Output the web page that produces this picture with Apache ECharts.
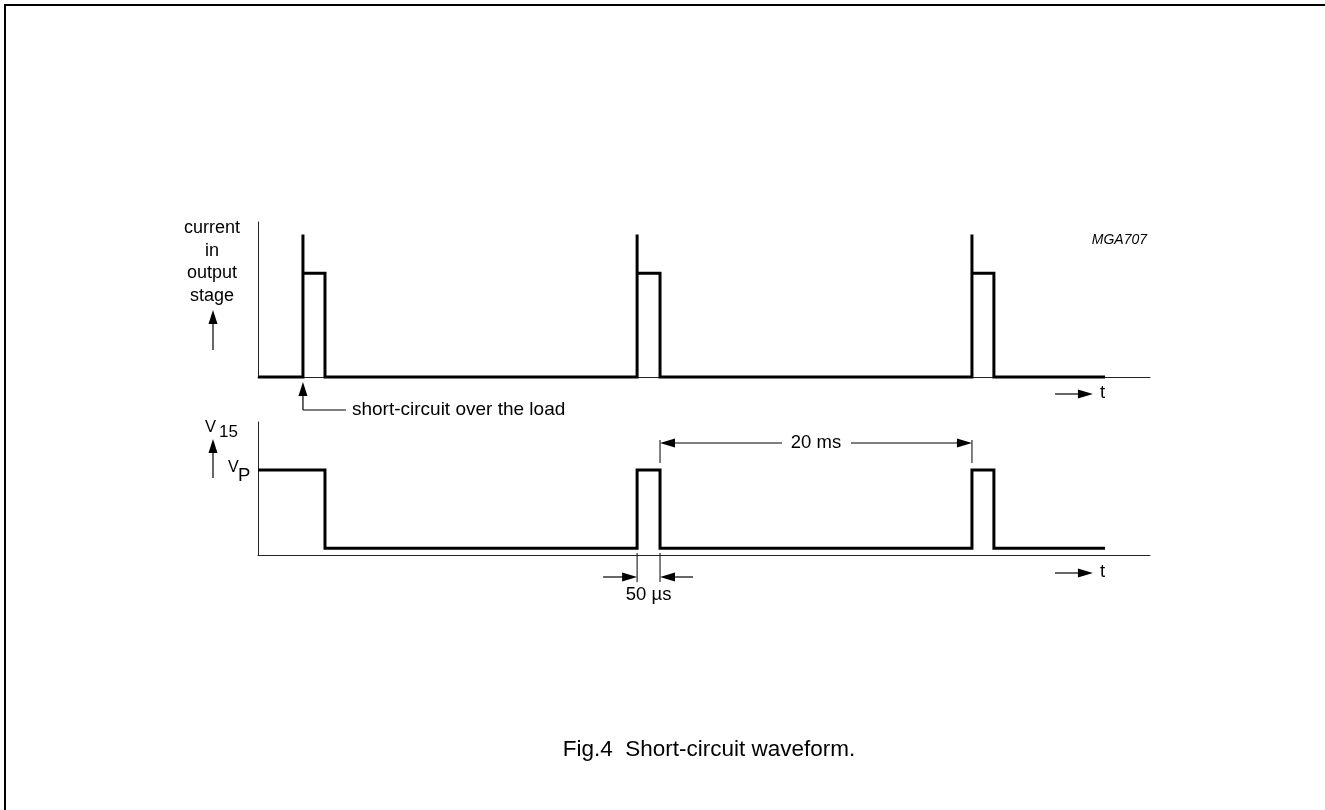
<!DOCTYPE html>
<html><head><meta charset="utf-8">
<script src="https://cdn.jsdelivr.net/npm/echarts@6/dist/echarts.min.js"></script>
<style>html,body{margin:0;padding:0;background:#fff}#c{width:1325px;height:810px}</style>
</head><body><div id="c"></div>
<script>
// ---- data (schematic time units 0..100, schematic levels 0..100) ----
const timeRange = [0, 100];
const levelRange = [0, 100];
const currentTime  = [0, 5.04, 5.04, 5.04, 7.51, 7.51, 42.5, 42.5, 42.5, 45.07, 45.07, 80.04, 80.04, 80.04, 82.5, 82.5, 94.96];
const currentLevel = [0, 0,    92,   67,   67,   0,    0,    92,   67,   67,    0,     0,     92,    67,    67,   0,    0];
const voltageTime  = [0,  7.51, 7.51, 42.5, 42.5, 45.07, 45.07, 80.04, 80.04, 82.5, 82.5, 94.96];
const voltageLevel = [64, 64,   5,    5,    64,   64,    5,     5,     64,    64,   5,    5];
const pulseStarts = [5.04, 42.5, 80.04];
const pulseEnds   = [7.51, 45.07, 82.5];
const topLabelLines = ['current', 'in', 'output', 'stage'];
const shortCircuitLabel = 'short-circuit over the load';
const periodLabel = '20 ms';
const widthLabel = '50 \u00b5s';
const timeLabel = 't';
const codeLabel = 'MGA707';
const captionText = 'Fig.4  Short-circuit waveform.';

const FONT = 'Liberation Sans, Arial, Helvetica, sans-serif';
const chart = echarts.init(document.getElementById('c'), null, {renderer: 'canvas'});

function pairs(xs, ys) { return xs.map((x, i) => [x, ys[i]]); }

const axisLineStyle = {color: '#222', width: 1};
function xAx(gi) {
  return {type: 'value', gridIndex: gi, min: timeRange[0], max: timeRange[1],
    axisLine: {show: true, onZero: false, lineStyle: axisLineStyle},
    axisTick: {show: false}, axisLabel: {show: false}, splitLine: {show: false}};
}
function yAx(gi) {
  return {type: 'value', gridIndex: gi, min: levelRange[0], max: levelRange[1],
    axisLine: {show: true, lineStyle: axisLineStyle},
    axisTick: {show: false}, axisLabel: {show: false}, splitLine: {show: false}};
}
const waveStyle = {color: '#000', width: 3, join: 'miter', cap: 'butt'};

chart.setOption({
  animation: false,
  backgroundColor: '#fff',
  grid: [
    {left: 258, top: 222, width: 892, height: 155},
    {left: 258, top: 422, width: 892, height: 133}
  ],
  xAxis: [xAx(0), xAx(1)],
  yAxis: [yAx(0), yAx(1)],
  series: [
    {type: 'line', xAxisIndex: 0, yAxisIndex: 0, data: pairs(currentTime, currentLevel),
     showSymbol: false, symbol: 'none', lineStyle: waveStyle, clip: false, silent: true},
    {type: 'line', xAxisIndex: 1, yAxisIndex: 1, data: pairs(voltageTime, voltageLevel),
     showSymbol: false, symbol: 'none', lineStyle: waveStyle, clip: false, silent: true}
  ]
});

// ---- annotations placed through the axes' scales ----
function px(gi, x, y) { return chart.convertToPixel({xAxisIndex: gi, yAxisIndex: gi}, [x, y]); }
const G = [];
function line(x1, y1, x2, y2, w) {
  G.push({type: 'line', shape: {x1, y1, x2, y2}, style: {stroke: '#000', lineWidth: w || 1.2}, silent: true});
}
function head(xt, yt, dx, dy, len, hw) {
  const bx = xt - dx * len, by = yt - dy * len;
  const nx = -dy, ny = dx;
  G.push({type: 'polygon', shape: {points: [[xt, yt], [bx + nx * hw, by + ny * hw], [bx - nx * hw, by - ny * hw]]},
    style: {fill: '#000'}, silent: true});
}
function arrow(x1, y1, x2, y2, len, hw) {
  const L = Math.hypot(x2 - x1, y2 - y1), dx = (x2 - x1) / L, dy = (y2 - y1) / L;
  line(x1, y1, x2 - dx * len * 0.8, y2 - dy * len * 0.8);
  head(x2, y2, dx, dy, len, hw);
}
function text(t, x, y, size, align, opts) {
  G.push(Object.assign({type: 'text', silent: true, style: Object.assign({
    text: t, x, y, fontSize: size, fontFamily: FONT, fill: '#000',
    align: align || 'left', verticalAlign: 'middle'}, (opts || {}))}));
}

// frame
G.push({type: 'rect', shape: {x: 5, y: 5, width: 1400, height: 900}, style: {fill: 'none', stroke: '#000', lineWidth: 2}, silent: true});

// top panel
const b0 = px(0, 0, 0);
const t0 = px(0, 0, levelRange[1]);
topLabelLines.forEach((s, i) => text(s, b0[0] - 46, t0[1] + 6 + i * 22.7, 18, 'center'));
arrow(b0[0] - 45, b0[1] - 27, b0[0] - 45, b0[1] - 67, 14, 4.5);
text(codeLabel, px(0, timeRange[1], 0)[0] - 3, t0[1] + 18, 14, 'right', {fontStyle: 'italic'});

// short-circuit pointer at first pulse start
const p1 = px(0, pulseStarts[0], 0);
arrow(p1[0], p1[1] + 33, p1[0], p1[1] + 5, 14, 4.5);
line(p1[0], p1[1] + 33, p1[0] + 43, p1[1] + 33);
text(shortCircuitLabel, p1[0] + 49, p1[1] + 33, 19, 'left');

// time arrows
function tArrow(gi, dy) {
  const a = px(gi, 89.35, 0), b = px(gi, 93.6, 0);
  arrow(a[0], a[1] + dy, b[0], b[1] + dy, 15, 4.5);
  text(timeLabel, b[0] + 7, b[1] + dy - 1, 18.5, 'left');
}
tArrow(0, 17);

// bottom panel
const b1 = px(1, 0, 0);
const vp = px(1, 0, voltageLevel[0]);
text('V', b1[0] - 53, px(1, 0, levelRange[1])[1] + 5, 16.5, 'left');
text('15', b1[0] - 39, px(1, 0, levelRange[1])[1] + 10, 17, 'left');
arrow(b1[0] - 45, b1[1] - 77, b1[0] - 45, b1[1] - 116, 14, 4.5);
text('V', vp[0] - 30, vp[1] - 2, 16, 'left');
text('P', vp[0] - 20, vp[1] + 6, 18.5, 'left');
tArrow(1, 18);

// 20 ms dimension: pulse 2 end to pulse 3 start
const dA = px(1, pulseEnds[1], 84.2), dB = px(1, pulseStarts[2], 84.2);
const tkTop = px(1, 0, 86.5)[1], tkBot = px(1, 0, 69.2)[1];
line(dA[0], tkTop, dA[0], tkBot, 1);
line(dB[0], tkTop, dB[0], tkBot, 1);
const mid = (dA[0] + dB[0]) / 2;
arrow(mid - 34, dA[1], dA[0], dA[1], 15, 4.5);
arrow(mid + 35, dA[1], dB[0], dB[1], 15, 4.5);
text(periodLabel, mid, dA[1], 18.5, 'center');

// 50 us dimension at pulse 2
const wA = px(1, pulseStarts[1], 0), wB = px(1, pulseEnds[1], 0);
line(wA[0], wA[1] - 2, wA[0], wA[1] + 27, 1);
line(wB[0], wB[1] - 2, wB[0], wB[1] + 27, 1);
arrow(wA[0] - 34, wA[1] + 22, wA[0], wA[1] + 22, 15, 4.5);
arrow(wB[0] + 33, wB[1] + 22, wB[0], wB[1] + 22, 15, 4.5);
text(widthLabel, (wA[0] + wB[0]) / 2, wA[1] + 40, 18.5, 'center');

// caption
text(captionText, 709, 750, 22.5, 'center');

chart.setOption({graphic: {elements: G}});
</script>
</body></html>
